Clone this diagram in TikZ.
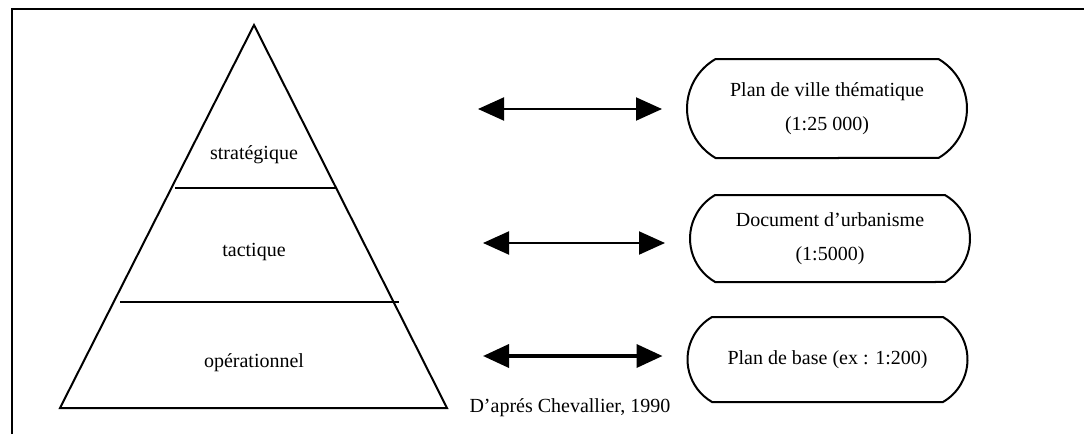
\documentclass[tikz,border=0pt]{standalone}
\usepackage{fontspec}
\setmainfont{Liberation Serif}
\usetikzlibrary{arrows.meta, shapes.misc, positioning}

\begin{document}
\begin{tikzpicture}[x=1pt, y=-1pt,
  levellabel/.style={font=\fontsize{20}{24}\selectfont},
  scalebox/.style={draw, line width=2pt, rounded rectangle,
        rounded rectangle arc length=120, minimum width=280pt,
        inner sep=0pt, align=center, font=\fontsize{20}{34}\selectfont},
  twoway/.style={{Triangle[length=26pt,width=23pt]}-{Triangle[length=26pt,width=23pt]},
        line width=2pt, shorten >=24pt}]
  \useasboundingbox (0,0) rectangle (1084,434);

  % frame (top and left only)
  \draw[line width=2.8pt] (12,434) -- (12,9) -- (1084,9);

  % pyramid
  \coordinate (apex) at (254,25);
  \coordinate (baseL) at (60,408);
  \coordinate (baseR) at (447,408);
  \draw[line width=2pt, line join=miter] (apex) -- (baseR) -- (baseL) -- cycle;
  \draw[line width=2pt] (175,188) -- (336,188);
  \draw[line width=2pt] (120,302) -- (399,302);

  \node[levellabel] (strat) at (254,155) {stratégique};
  \node[levellabel] (tact)  at (254,252) {tactique};
  \node[levellabel] (oper)  at (254,363) {opérationnel};
  \node[levellabel, anchor=west] (source) at (466,408) {D’aprés Chevallier, 1990};

  % scale boxes
  \node[scalebox, minimum height=99pt] (b1) at (827,108.5)
    {Plan de ville thématique\\(1:25 000)};
  \node[scalebox, minimum height=87pt] (b2) at (830,238.5)
    {Document d’urbanisme\\(1:5000)};
  \node[scalebox, minimum height=85pt] (b3) at (827.5,359.5)
    {Plan de base (ex : 1:200)};

  % arrows
  \coordinate (s1) at (478,109);
  \coordinate (s2) at (483,243);
  \coordinate (s3) at (483,356);
  \draw[twoway] (s1) -- (s1 -| b1.west);
  \draw[twoway] (s2) -- (s2 -| b2.west);
  \draw[twoway, line width=3.6pt] (s3) -- (s3 -| b3.west);
\end{tikzpicture}
\end{document}
